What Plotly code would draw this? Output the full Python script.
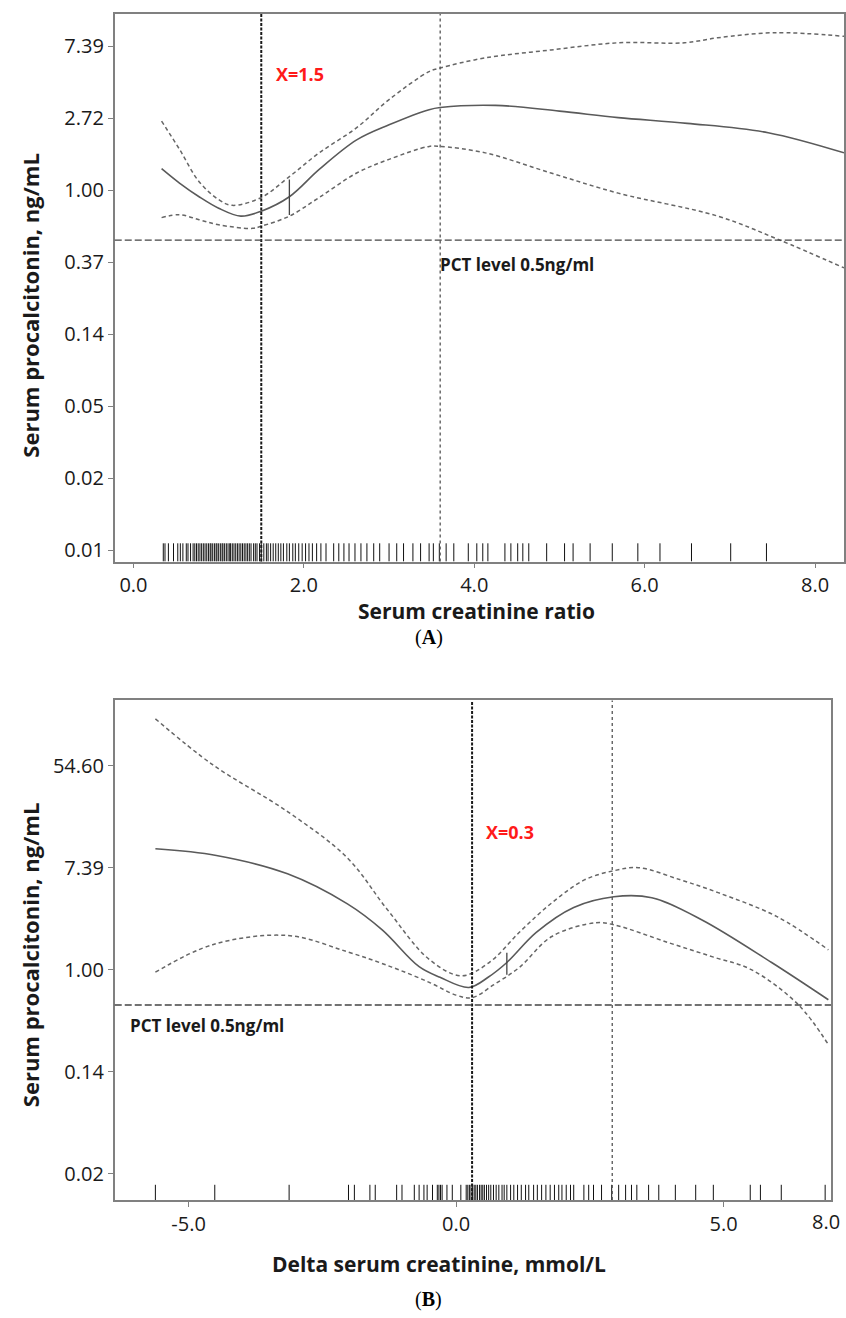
import plotly.graph_objects as go

# ---- Panel A : serum creatinine ratio ----
a_x = [0.33, 0.54, 0.77, 1.0, 1.26, 1.5, 1.83, 2.18, 2.62, 3.0, 3.47, 3.6, 4.25, 5.0, 5.69, 6.5, 7.45, 8.34]
a_fit = [1.35, 1.105, 0.914, 0.779, 0.698, 0.748, 0.914, 1.336, 2.014, 2.484, 3.065, 3.158, 3.254, 3.004, 2.746, 2.535, 2.226, 1.682]

a_up_x = [0.33, 0.54, 0.77, 1.0, 1.16, 1.5, 1.83, 2.18, 2.62, 3.0, 3.47, 3.6, 4.13, 4.9, 5.69, 6.47, 6.86, 7.53, 8.34]
a_up = [2.612, 1.768, 1.127, 0.878, 0.811, 0.905, 1.209, 1.682, 2.387, 3.525, 5.207, 5.474, 6.297, 7.029, 7.768, 7.768, 8.331, 8.935, 8.499]

a_lo_x = [0.33, 0.54, 0.77, 1.0, 1.4, 1.5, 1.83, 2.18, 2.62, 3.0, 3.47, 3.6, 4.13, 4.9, 5.69, 6.86, 7.56, 8.34]
a_lo = [0.684, 0.712, 0.664, 0.619, 0.589, 0.607, 0.698, 0.905, 1.271, 1.537, 1.84, 1.84, 1.682, 1.271, 0.961, 0.698, 0.507, 0.34]

a_bar_x = 1.83
a_bar_y = [0.71, 1.16]
a_cut = 1.5
a_peak = 3.6
pct_level = 0.5

a_rug = [0.35, 0.37, 0.41, 0.47, 0.52, 0.55, 0.58, 0.62, 0.64, 0.67, 0.70, 0.72, 0.74, 0.76, 0.78,
         0.80, 0.82, 0.84, 0.86, 0.88, 0.90, 0.91, 0.93, 0.95, 0.97, 0.98, 1.00, 1.02, 1.04, 1.05,
         1.07, 1.09, 1.11, 1.13, 1.14, 1.16, 1.18, 1.20, 1.22, 1.24, 1.26, 1.28, 1.30, 1.32, 1.34,
         1.36, 1.38, 1.41, 1.43, 1.45, 1.48, 1.50, 1.53, 1.56, 1.58, 1.61, 1.64, 1.67, 1.70, 1.73,
         1.76, 1.80, 1.83, 1.87, 1.90, 1.94, 1.98, 2.02, 2.06, 2.10, 2.15, 2.20, 2.26,
         2.35, 2.41, 2.47, 2.53, 2.60, 2.67, 2.74, 2.82, 2.89, 3.00, 3.09, 3.17, 3.28, 3.37, 3.47,
         3.52, 3.59, 3.67, 3.76, 3.93, 4.03, 4.10, 4.16, 4.36, 4.43, 4.51, 4.57, 4.64, 4.85, 5.06,
         5.16, 5.36, 5.62, 5.92, 6.18, 6.55, 7.01, 7.43]

a_tickvals = [7.389, 2.718, 1.0, 0.3679, 0.1353, 0.04979, 0.01832, 0.006738]
a_ticktext = ["7.39", "2.72", "1.00", "0.37", "0.14", "0.05", "0.02", "0.01"]
a_xticks = [0.0, 2.0, 4.0, 6.0, 8.0]

# ---- Panel B : delta serum creatinine ----
b_x = [-5.62, -4.48, -3.15, -2.03, -1.38, -0.69, -0.3, 0.24, 0.6, 0.95, 1.5, 2.2, 2.95, 3.66, 4.59, 5.9, 6.96]
b_fit = [10.7, 9.39, 6.55, 3.63, 2.18, 1.06, 0.861, 0.705, 0.861, 1.15, 2.075, 3.387, 4.179, 4.096, 2.664, 1.15, 0.554]

b_up_x = [-5.62, -4.55, -3.15, -2.03, -1.3, -0.5, 0.1, 0.62, 1.2, 1.79, 2.4, 2.95, 3.41, 4.2, 4.9, 6.0, 6.96]
b_up = [137.0, 55.7, 22.2, 8.94, 3.32, 1.221, 0.887, 1.15, 2.117, 3.706, 5.81, 6.96, 7.39, 5.81, 4.527, 2.829, 1.477]

b_lo_x = [-5.62, -4.55, -3.15, -2.03, -1.2, -0.5, 0.0, 0.3, 0.7, 1.18, 1.79, 2.61, 2.95, 3.97, 4.8, 5.52, 6.4, 6.96]
b_lo = [0.951, 1.632, 1.954, 1.419, 1.051, 0.779, 0.607, 0.577, 0.741, 1.041, 1.916, 2.509, 2.411, 1.699, 1.284, 1.0, 0.502, 0.23]

b_bar_x = 0.95
b_bar_y = [0.905, 1.39]
b_cut = 0.3
b_peak = 2.92

b_rug = [-5.62, -4.51, -3.12, -2.01, -1.90, -1.61, -1.51, -1.11, -1.01, -0.78, -0.69, -0.60, -0.54,
         -0.44, -0.35, -0.32, -0.29, -0.26, -0.17, -0.07, 0.09, 0.19, 0.22, 0.25, 0.28, 0.31, 0.34,
         0.37, 0.40, 0.44, 0.47, 0.50, 0.53, 0.57, 0.61, 0.65, 0.70, 0.75, 0.80, 0.86, 0.90, 0.95,
         1.02, 1.08, 1.15, 1.22, 1.30, 1.36, 1.45, 1.52, 1.60, 1.68, 1.76, 1.84, 1.92, 1.98, 2.06,
         2.14, 2.20, 2.39, 2.48, 2.57, 2.72, 2.91, 3.04, 3.17, 3.28, 3.38, 3.60, 3.79, 4.10, 4.48,
         4.81, 5.50, 5.69, 6.08, 6.90]

b_tickvals = [54.6, 7.389, 1.0, 0.1353, 0.01832]
b_ticktext = ["54.60", "7.39", "1.00", "0.14", "0.02"]
b_xticks = [-5.0, 0.0, 5.0]

W, H = 846, 1318
FONT = "Open Sans"

fig = go.Figure()


def add_curves(xa, ya, fit_x, fit, up_x, up, lo_x, lo, bar_x, bar_y, rug, rug_y):
    ln = dict(color="#5a5a5a", width=1.6)
    dl = dict(color="#666666", width=1.5, dash="4px,3px")
    fig.add_trace(go.Scatter(x=fit_x, y=fit, mode="lines", line=dict(ln, shape="spline"),
                             xaxis=xa, yaxis=ya, showlegend=False))
    fig.add_trace(go.Scatter(x=up_x, y=up, mode="lines", line=dict(dl, shape="spline"),
                             xaxis=xa, yaxis=ya, showlegend=False))
    fig.add_trace(go.Scatter(x=lo_x, y=lo, mode="lines", line=dict(dl, shape="spline"),
                             xaxis=xa, yaxis=ya, showlegend=False))
    fig.add_trace(go.Scatter(x=[bar_x, bar_x], y=bar_y, mode="lines",
                             line=dict(color="#444444", width=1.3),
                             xaxis=xa, yaxis=ya, showlegend=False))
    # rug of observations
    rx, ry = [], []
    for v in rug:
        rx += [v, v, None]
        ry += [rug_y[0], rug_y[1], None]
    fig.add_trace(go.Scatter(x=rx, y=ry, mode="lines", line=dict(color="#111111", width=1),
                             xaxis=xa, yaxis=ya, showlegend=False))


add_curves("x", "y", a_x, a_fit, a_up_x, a_up, a_lo_x, a_lo, a_bar_x, a_bar_y, a_rug, [0.00574, 0.0074])
add_curves("x2", "y2", b_x, b_fit, b_up_x, b_up, b_lo_x, b_lo, b_bar_x, b_bar_y, b_rug, [0.0109, 0.0147])

# reference lines
for xr, yr, cut, peak in [("x", "y", a_cut, a_peak), ("x2", "y2", b_cut, b_peak)]:
    fig.add_shape(type="line", xref=xr, yref=yr + " domain", x0=cut, x1=cut, y0=0, y1=1,
                  line=dict(color="#1a1a1a", width=2, dash="3px,1.5px"))
    fig.add_shape(type="line", xref=xr, yref=yr + " domain", x0=peak, x1=peak, y0=0, y1=1,
                  line=dict(color="#555555", width=1.3, dash="3px,3px"))
    fig.add_shape(type="line", xref=xr + " domain", yref=yr, x0=0, x1=1, y0=pct_level, y1=pct_level,
                  line=dict(color="#444444", width=1.3, dash="7px,3px"))

ax_common = dict(showline=True, linecolor="#808080", linewidth=1.6, mirror=True,
                 showgrid=False, zeroline=False, ticks="outside", ticklen=5,
                 tickcolor="#808080", tickwidth=1.3,
                 tickfont=dict(family=FONT, size=20, color="#1a1a1a"))

fig.update_layout(
    width=W, height=H,
    margin=dict(l=0, r=0, t=0, b=0),
    paper_bgcolor="white", plot_bgcolor="white",
    showlegend=False,
    xaxis=dict(ax_common, domain=[115 / W, 1.0], range=[-0.22, 8.34],
               tickvals=a_xticks, ticktext=["0.0", "2.0", "4.0", "6.0", "8.0"], anchor="y"),
    yaxis=dict(ax_common, domain=[1 - 562 / H, 1 - 14 / H], type="log", range=[-2.241, 1.064],
               tickvals=a_tickvals, ticktext=a_ticktext, anchor="x"),
    xaxis2=dict(ax_common, domain=[115 / W, 833 / W], range=[-6.38, 7.01],
                tickvals=b_xticks, ticktext=["-5.0", "0.0", "5.0"], anchor="y2"),
    yaxis2=dict(ax_common, domain=[1 - 1201 / H, 1 - 701 / H], type="log", range=[-1.963, 2.293],
                tickvals=b_tickvals, ticktext=b_ticktext, anchor="x2"),
)


def ann(text, px, py, size=19, color="#1a1a1a", angle=0, family=FONT, xanchor="center"):
    fig.add_annotation(text=text, x=px / W, y=1 - py / H, xref="paper", yref="paper",
                       showarrow=False, textangle=angle, xanchor=xanchor, yanchor="middle",
                       borderpad=0, font=dict(family=family, size=size, color=color))


# axis titles
ann("<b>Serum procalcitonin, ng/mL</b>", 30, 305, size=22, angle=-90)
ann("<b>Serum creatinine ratio</b>", 478, 611, size=21)
ann("<b>Serum procalcitonin, ng/mL</b>", 30, 955, size=22, angle=-90)
ann("<b>Delta serum creatinine, mmol/L</b>", 440, 1265, size=21)

# panel labels
ann("(<b>A</b>)", 430, 638, size=20, family="Liberation Serif", color="#000000")
ann("(<b>B</b>)", 430, 1300, size=20, family="Liberation Serif", color="#000000")

# in-plot labels
ann("<b>X=1.5</b>", 276, 74, size=18, color="#ff1a1a", xanchor="left")
ann("<b>PCT level 0.5ng/ml</b>", 518, 265, size=17)
ann("<b>X=0.3</b>", 486, 833, size=18, color="#ff1a1a", xanchor="left")
ann("<b>PCT level 0.5ng/ml</b>", 129, 1026, size=17, xanchor="left")
# end label of the lower x-axis
ann("8.0", 828, 1222, size=20)

fig.write_html("out.html", config={"displayModeBar": False},
               post_script="document.body.style.margin='0';")
